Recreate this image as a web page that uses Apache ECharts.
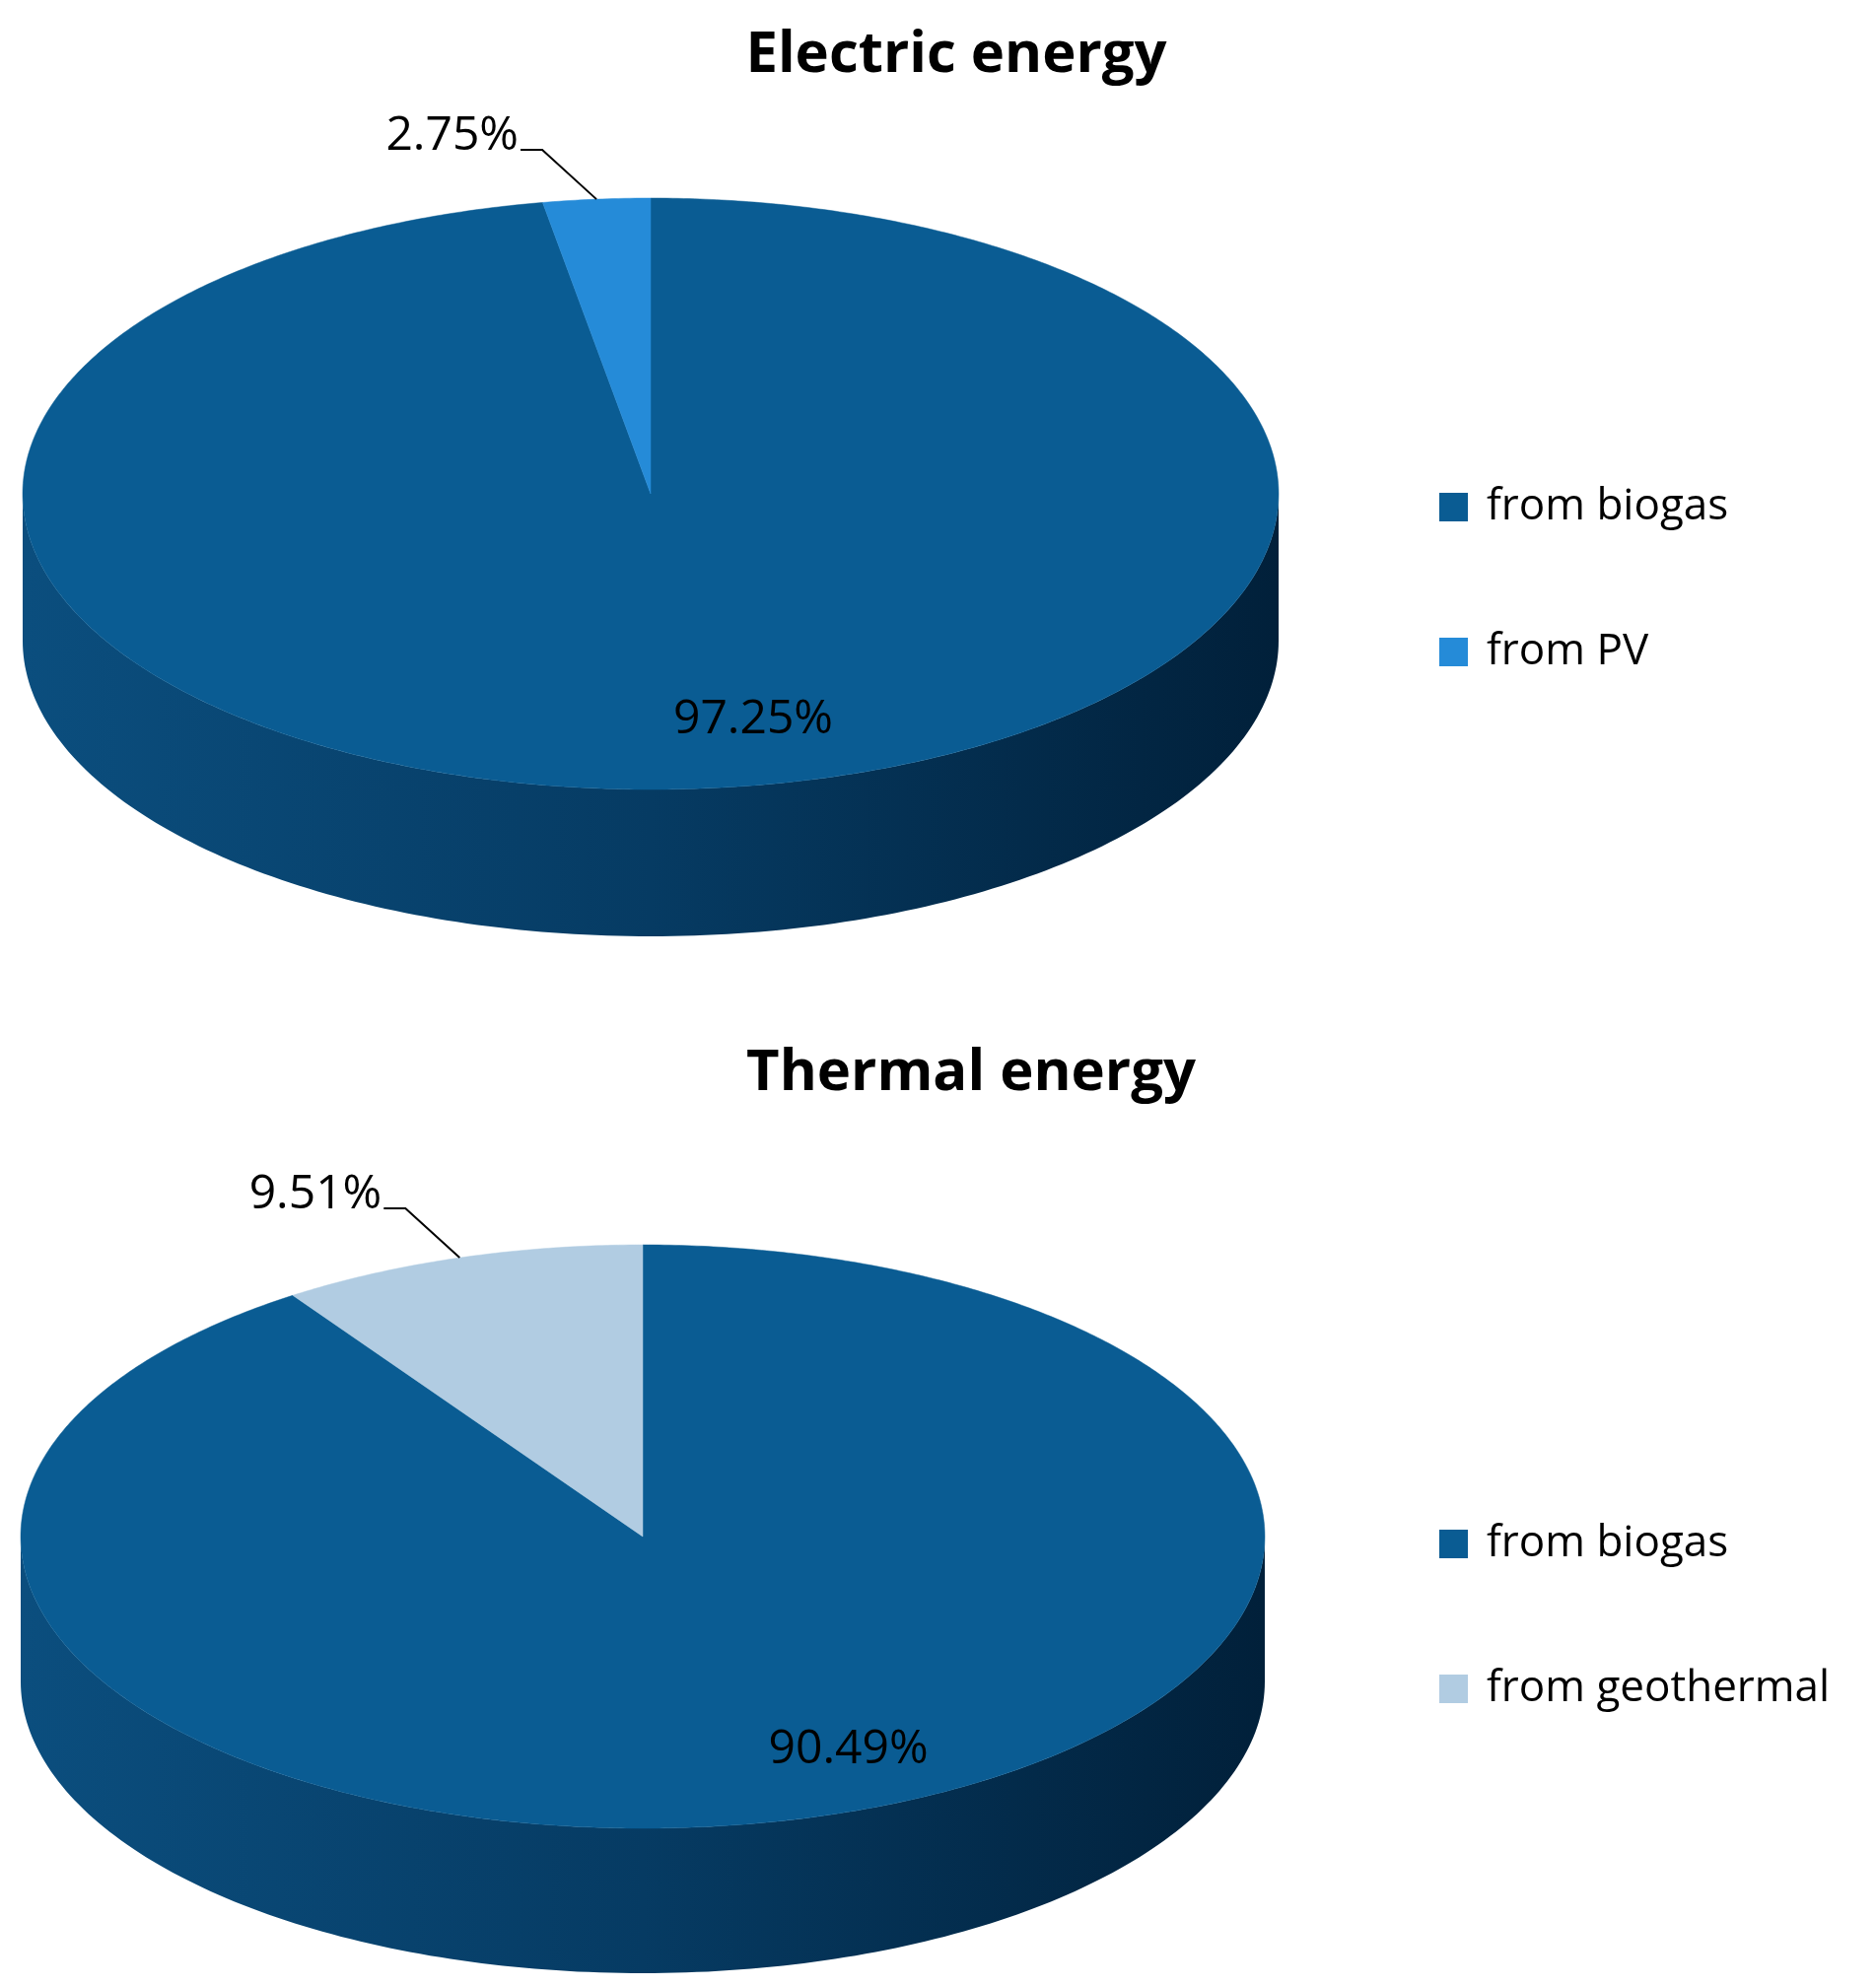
<!DOCTYPE html>
<html><head><meta charset="utf-8">
<script src="https://cdn.jsdelivr.net/npm/echarts@6/dist/echarts.min.js"></script>
<style>html,body{margin:0;padding:0;background:#fff}#c{width:1903px;height:2015px}</style>
</head><body><div id="c"></div>
<script>
// 数据
var categoriesElectric = ['from biogas', 'from PV'];
var valuesElectric = [97.25, 2.75];
var categoriesThermal = ['from biogas', 'from geothermal'];
var valuesThermal = [90.49, 9.51];
var titles = ['Electric energy', 'Thermal energy'];

var colorsElectric = ['#0a5c93', '#258bd8'];
var colorsThermal = ['#0a5c93', '#b1cce2'];
var FONT = '"Open Sans", "DejaVu Sans", sans-serif';

function pt(cx, cy, rx, ry, deg, dy) {
    var r = deg * Math.PI / 180;
    return [cx + rx * Math.cos(r), cy + ry * Math.sin(r) + (dy || 0)];
}

// 椭圆饼图绘制（模拟3D）
function makePie(values, colors, cx, cy, rx, ry, depth) {
    return function (params, api) {
        var total = values.reduce(function (a, b) { return a + b; }, 0);
        var children = [];
        var side = new echarts.graphic.LinearGradient(0, 0, 1, 0, [
            {offset: 0, color: '#0b4e7e'}, {offset: 0.5, color: '#063b63'}, {offset: 1, color: '#01203a'}
        ]);
        var a = -90, slices = [];
        for (var i = 0; i < values.length; i++) {
            var span = values[i] / total * 360;
            slices.push([a, a + span]);
            a += span;
        }
        // 侧面
        slices.forEach(function (s) {
            [0, 360].forEach(function (off) {
                var lo = Math.max(s[0], off), hi = Math.min(s[1], off + 180);
                if (hi <= lo) return;
                var top = [], bot = [];
                for (var d = lo; d <= hi; d += 1) { top.push(pt(cx, cy, rx, ry, d)); bot.push(pt(cx, cy, rx, ry, d, depth)); }
                top.push(pt(cx, cy, rx, ry, hi)); bot.push(pt(cx, cy, rx, ry, hi, depth));
                children.push({type: 'polygon', shape: {points: top.concat(bot.reverse())}, style: {fill: side}});
            });
        });
        // 顶面
        slices.forEach(function (s, i) {
            var p = [[cx, cy]];
            for (var d = s[0]; d < s[1]; d += 0.5) p.push(pt(cx, cy, rx, ry, d));
            p.push(pt(cx, cy, rx, ry, s[1]));
            children.push({type: 'polygon', shape: {points: p}, style: {fill: colors[i], stroke: colors[i], lineWidth: 0.5}});
        });
        // 标签
        slices.forEach(function (s, i) {
            var mid = (s[0] + s[1]) / 2;
            var txt = values[i].toFixed(2) + '%';
            if (values[i] > 50) {
                var q = pt(cx, cy, rx * 0.8, ry * 0.8, mid);
                children.push({type: 'text', x: q[0] + 60, y: q[1] - 10, style: {text: txt, font: '48px ' + FONT, fill: '#000', align: 'center', verticalAlign: 'middle'}});
            } else {
                var e = pt(cx, cy, rx, ry, mid);
                var b = [e[0] - 55, e[1] - 50], c = [b[0] - 22, b[1]];
                children.push({type: 'polyline', shape: {points: [e, b, c]}, style: {stroke: '#000', lineWidth: 2, fill: null}});
                children.push({type: 'text', x: c[0] - 2, y: c[1] - 14, style: {text: txt, font: '48px ' + FONT, fill: '#000', align: 'right', verticalAlign: 'middle'}});
            }
        });
        return {type: 'group', children: children};
    };
}

function legendItems(cats, colors, x, y0, gap) {
    var out = [];
    cats.forEach(function (c, i) {
        var y = y0 + i * gap;
        out.push({type: 'rect', shape: {x: x, y: y - 14, width: 29, height: 29}, style: {fill: colors[i]}});
        out.push({type: 'text', x: x + 48, y: y, style: {text: c, font: '44px ' + FONT, fill: '#000', verticalAlign: 'middle'}});
    });
    return out;
}

var chart = echarts.init(document.getElementById('c'));
chart.setOption({
    animation: false,
    title: [
        {text: titles[0], left: 965, top: 22, textAlign: 'center', textStyle: {fontSize: 58, fontWeight: 'bold', fontFamily: FONT, color: '#000'}},
        {text: titles[1], left: 980, top: 1055, textAlign: 'center', textStyle: {fontSize: 58, fontWeight: 'bold', fontFamily: FONT, color: '#000'}}
    ],
    graphic: legendItems(categoriesElectric, colorsElectric, 1460, 514, 147)
        .concat(legendItems(categoriesThermal, colorsThermal, 1460, 1566, 147)),
    series: [
        {type: 'custom', coordinateSystem: 'none', data: [0], renderItem: makePie(valuesElectric, colorsElectric, 660, 501, 637, 300, 149)},
        {type: 'custom', coordinateSystem: 'none', data: [0], renderItem: makePie(valuesThermal, colorsThermal, 652, 1559, 631, 296, 147)}
    ]
});
</script></body></html>
